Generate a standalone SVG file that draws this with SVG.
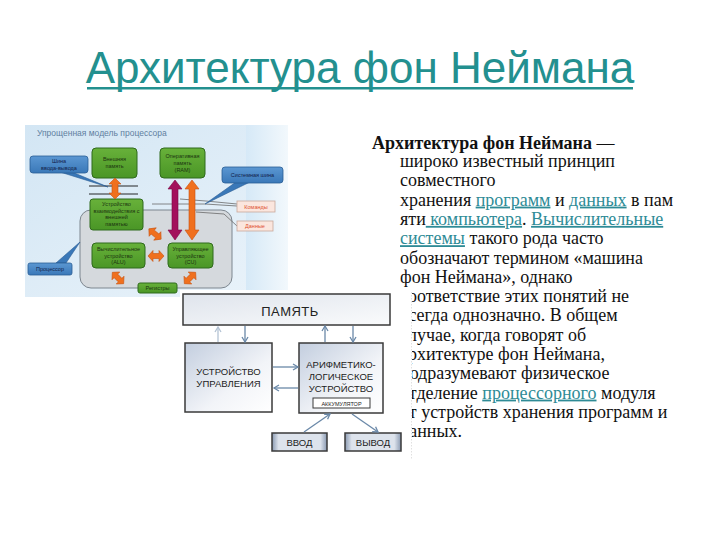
<svg xmlns="http://www.w3.org/2000/svg" width="720" height="540" viewBox="0 0 720 540">
<defs>
<style>
.title{font-family:"Liberation Sans",Arial,sans-serif;font-size:44px;fill:#23908f;}
.body{font-family:"Liberation Serif","Times New Roman",serif;font-size:18px;fill:#111;}
.bold{font-weight:bold;}
.lnk{fill:#2e8b96;text-decoration:underline;}
.sm{font-family:"Liberation Sans",Arial,sans-serif;font-size:5.5px;text-anchor:middle;}
.gtxt{fill:#1c3410;}
.btxt{fill:#12224a;}
.gbox{fill:url(#gGreen);stroke:#2f6a1c;stroke-width:1;}
.bbox{fill:url(#gBlue);stroke:#2a5d94;stroke-width:0.8;}
.org{fill:#f0701e;stroke:#c85210;stroke-width:0.6;}
.crm{fill:#a3105c;stroke:#7a0844;stroke-width:0.6;}
.pbox{fill:#fbe6de;stroke:#c9a89c;stroke-width:0.8;}
.ptxt{fill:#e0502e;}
.thin{fill:none;stroke:#6a6a6a;stroke-width:0.8;}
.lbl{font-family:"Liberation Sans",Arial,sans-serif;text-anchor:middle;fill:#222;}
.dbox{stroke:#3a3a3a;stroke-width:1.5;}
.conn{stroke:#6a88a8;stroke-width:1.3;fill:none;marker-end:url(#chev);}
</style>
<linearGradient id="gBg" x1="0" y1="0" x2="1" y2="1">
<stop offset="0" stop-color="#d3e6f4"/><stop offset="1" stop-color="#eaf3fa"/>
</linearGradient>
<linearGradient id="gBand" x1="0" y1="0" x2="1" y2="0">
<stop offset="0" stop-color="#d6e9f7"/><stop offset="1" stop-color="#f2f8fc"/>
</linearGradient>
<linearGradient id="gGreen" x1="0" y1="0" x2="0" y2="1">
<stop offset="0" stop-color="#68b13a"/><stop offset="1" stop-color="#4a9626"/>
</linearGradient>
<linearGradient id="gBlue" x1="0" y1="0" x2="0" y2="1">
<stop offset="0" stop-color="#5b97d2"/><stop offset="1" stop-color="#3a78b8"/>
</linearGradient>
<linearGradient id="gMem" x1="0" y1="0" x2="1" y2="1">
<stop offset="0" stop-color="#dfe4ec"/><stop offset="1" stop-color="#fafbfc"/>
</linearGradient>
<linearGradient id="gUnit" x1="0" y1="0" x2="1" y2="1">
<stop offset="0" stop-color="#c3cedf"/><stop offset="0.6" stop-color="#f2f4f8"/><stop offset="1" stop-color="#ffffff"/>
</linearGradient>
<linearGradient id="gIo" x1="0" y1="0" x2="1" y2="0">
<stop offset="0" stop-color="#8a9ab2"/><stop offset="0.12" stop-color="#dde3ec"/><stop offset="0.88" stop-color="#dde3ec"/><stop offset="1" stop-color="#8a9ab2"/>
</linearGradient>
<marker id="chev" markerWidth="8" markerHeight="8" refX="6" refY="4" orient="auto" markerUnits="userSpaceOnUse">
<path d="M1,1 L6,4 L1,7" fill="none" stroke="#6a88a8" stroke-width="1.3"/>
</marker>
<marker id="chevL" markerWidth="8" markerHeight="8" refX="6" refY="4" orient="auto" markerUnits="userSpaceOnUse">
<path d="M1,1 L6,4 L1,7" fill="none" stroke="#b4c3d4" stroke-width="1.3"/>
</marker>
<polygon id="dbl" points="-8,0 -3,-5.5 -3,-2.5 3,-2.5 3,-5.5 8,0 3,5.5 3,2.5 -3,2.5 -3,5.5"/>
</defs>

<rect width="720" height="540" fill="#ffffff"/>

<!-- Slide title -->
<g id="slide-title">
<text class="title" x="360" y="83" text-anchor="middle">Архитектура фон Неймана</text>
<rect x="87" y="87" width="546" height="2.5" fill="#23908f"/>
</g>

<!-- Body text -->
<g id="body-text" class="body">
<text class="body bold" x="372" y="149">Архитектура фон Неймана<tspan font-weight="normal"> —</tspan></text>
<text x="400" y="167">широко известный принцип</text>
<text x="400" y="186.3">совместного</text>
<text x="400" y="205.6">хранения <tspan class="lnk">программ</tspan> и <tspan class="lnk">данных</tspan> в пам</text>
<text x="400" y="224.9">яти<tspan class="lnk"> компьютера</tspan>. <tspan class="lnk">Вычислительные</tspan></text>
<text x="400" y="244.2"><tspan class="lnk">системы</tspan> такого рода часто</text>
<text x="400" y="263.5">обозначают термином «машина</text>
<text x="400" y="282.8">фон Неймана», однако</text>
<text x="400" y="302.1">соответствие этих понятий не</text>
<text x="400" y="321.4">всегда однозначно. В общем</text>
<text x="400" y="340.7">случае, когда говорят об</text>
<text x="400" y="360">архитектуре фон Неймана,</text>
<text x="400" y="379.3">подразумевают физическое</text>
<text x="400" y="398.6">отделение <tspan class="lnk">процессорного</tspan> модуля</text>
<text x="400" y="417.9">от устройств хранения программ и</text>
<text x="400" y="437.2">данных.</text>
</g>

<!-- Upper picture: simplified processor model -->
<g id="processor-model">
<rect x="25" y="125" width="263" height="172" fill="url(#gBg)"/>
<rect x="246" y="125" width="42" height="172" fill="url(#gBand)"/>
<text x="37" y="136" font-family="Liberation Sans, Arial, sans-serif" font-size="8.5" fill="#5f7f9f">Упрощенная модель процессора</text>

<g id="cpu-area">
<rect x="80" y="210" width="152" height="78" rx="11" fill="#d5d9dd" stroke="#7d868f" stroke-width="1"/>
</g>

<g id="io-bus-lines">
<line x1="89" y1="186" x2="138" y2="186" stroke="#111" stroke-width="0.9"/>
<line x1="89" y1="194" x2="138" y2="194" stroke="#111" stroke-width="0.9"/>
<polyline class="thin" points="152,204 205,204 237,206"/>
<polyline class="thin" points="180,199 206,201 237,204"/>
<polyline class="thin" points="196,212 224,214 237,226"/>
</g>

<g id="n-io-bus">
<polygon points="60,172 72,172 108,187" fill="#3a78b8" stroke="#2a5d94" stroke-width="0.6"/>
<rect class="bbox" x="30" y="156" width="58" height="17" rx="3"/>
<text class="sm btxt" x="59" y="163">Шина</text>
<text class="sm btxt" x="59" y="170">ввода-вывода</text>
</g>

<g id="n-ext-mem">
<rect class="gbox" x="92" y="148" width="45" height="30" rx="4"/>
<text class="sm gtxt" x="114.5" y="161">Внешняя</text>
<text class="sm gtxt" x="114.5" y="168">память</text>
</g>

<g id="n-ram">
<rect class="gbox" x="160" y="148" width="45" height="30" rx="4"/>
<text class="sm gtxt" x="182.5" y="158">Оперативная</text>
<text class="sm gtxt" x="182.5" y="165">память</text>
<text class="sm gtxt" x="182.5" y="172">(RAM)</text>
</g>

<g id="n-sys-bus">
<polygon points="236,182 250,182 205,204" fill="#3a78b8" stroke="#2a5d94" stroke-width="0.6"/>
<rect class="bbox" x="222" y="167" width="61" height="16" rx="3"/>
<text class="sm btxt" x="252.5" y="177">Системная шина</text>
</g>

<g id="n-storage-if">
<rect class="gbox" x="90" y="199" width="53" height="31" rx="3"/>
<text class="sm gtxt" x="116.5" y="206">Устройство</text>
<text class="sm gtxt" x="116.5" y="212.5">взаимодействия с</text>
<text class="sm gtxt" x="116.5" y="219">внешней</text>
<text class="sm gtxt" x="116.5" y="225.5">памятью</text>
</g>

<g id="n-commands">
<rect class="pbox" x="237" y="201" width="38" height="11"/>
<text class="sm ptxt" x="256" y="208.5">Команды</text>
</g>

<g id="n-data">
<rect class="pbox" x="237" y="221" width="36" height="10"/>
<text class="sm ptxt" x="255" y="228">Данные</text>
</g>

<g id="n-alu-green">
<rect class="gbox" x="92" y="243" width="53" height="25" rx="4"/>
<text class="sm gtxt" x="118.5" y="251">Вычислительное</text>
<text class="sm gtxt" x="118.5" y="257.5">устройство</text>
<text class="sm gtxt" x="118.5" y="264">(ALU)</text>
</g>

<g id="n-cu-green">
<rect class="gbox" x="168" y="243" width="45" height="25" rx="4"/>
<text class="sm gtxt" x="190.5" y="251">Управляющее</text>
<text class="sm gtxt" x="190.5" y="257.5">устройство</text>
<text class="sm gtxt" x="190.5" y="264">(CU)</text>
</g>

<g id="n-registers">
<rect class="gbox" x="138" y="283" width="39" height="10" rx="2"/>
<text class="sm gtxt" x="157.5" y="290">Регистры</text>
</g>

<g id="n-processor">
<polygon points="56,263 66,263 80,242" fill="#3a78b8" stroke="#2a5d94" stroke-width="0.6"/>
<rect class="bbox" x="28" y="263" width="44" height="12" rx="2"/>
<text class="sm btxt" x="50" y="271">Процессор</text>
</g>

<g id="bus-arrows">
<polygon class="org" points="115,178 121,184 118,184 118,193 121,193 115,199 109,193 112,193 112,184 109,184"/>
<polygon class="crm" points="175,180 182,189 178,189 178,230 182,230 175,240 168,230 172,230 172,189 168,189"/>
<polygon class="org" points="192,180 199,189 195,189 195,230 199,230 192,240 185,230 189,230 189,189 185,189"/>
<use href="#dbl" class="org" transform="translate(155,234) rotate(40)"/>
<use href="#dbl" class="org" transform="translate(156,256)"/>
<use href="#dbl" class="org" transform="translate(118,278) rotate(45)"/>
<use href="#dbl" class="org" transform="translate(190,278) rotate(-45)"/>
</g>
</g>

<!-- Lower picture: von Neumann scheme -->
<g id="neumann-scheme">
<rect x="180" y="290" width="232" height="172" fill="#ffffff"/>
<line x1="411.5" y1="292" x2="411.5" y2="460" stroke="#d8d8d8" stroke-width="0.8" stroke-dasharray="1.5 1.5"/>

<g id="n-memory">
<rect class="dbox" x="183" y="294" width="207" height="31" fill="url(#gMem)"/>
<text class="lbl" x="290" y="316" font-size="13" letter-spacing="0.5">ПАМЯТЬ</text>
</g>

<g id="n-control">
<rect class="dbox" x="185" y="343" width="87" height="69" fill="url(#gUnit)"/>
<text class="lbl" x="228.5" y="375" font-size="9.5">УСТРОЙСТВО</text>
<text class="lbl" x="228.5" y="387" font-size="9.5">УПРАВЛЕНИЯ</text>
</g>

<g id="n-alu">
<rect class="dbox" x="299" y="343" width="84" height="70" fill="url(#gUnit)"/>
<text class="lbl" x="341" y="368" font-size="9.5">АРИФМЕТИКО-</text>
<text class="lbl" x="341" y="380" font-size="9.5">ЛОГИЧЕСКОЕ</text>
<text class="lbl" x="341" y="392" font-size="9.5">УСТРОЙСТВО</text>
<rect x="313" y="398" width="57" height="10" fill="#ffffff" stroke="#3a3a3a" stroke-width="1"/>
<text class="lbl" x="341.5" y="405.5" font-size="5.5">АККУМУЛЯТОР</text>
</g>

<g id="n-input">
<rect class="dbox" x="272" y="433" width="55" height="18" fill="url(#gIo)"/>
<text class="lbl" x="299.5" y="446" font-size="9.5">ВВОД</text>
</g>

<g id="n-output">
<rect class="dbox" x="345" y="433" width="56" height="18" fill="url(#gIo)"/>
<text class="lbl" x="373" y="446" font-size="9.5">ВЫВОД</text>
</g>

<g id="connectors">
<line x1="218" y1="342" x2="218" y2="327" stroke="#b4c3d4" stroke-width="1.3" marker-end="url(#chevL)"/>
<line class="conn" x1="245" y1="326" x2="245" y2="342"/>
<line class="conn" x1="325" y1="342" x2="325" y2="326"/>
<line class="conn" x1="353" y1="326" x2="353" y2="342"/>
<line class="conn" x1="273" y1="367" x2="298" y2="367"/>
<line class="conn" x1="298" y1="388" x2="274" y2="388"/>
<line class="conn" x1="304" y1="432" x2="330" y2="414"/>
<line class="conn" x1="352" y1="414" x2="378" y2="432"/>
</g>
</g>
</svg>
